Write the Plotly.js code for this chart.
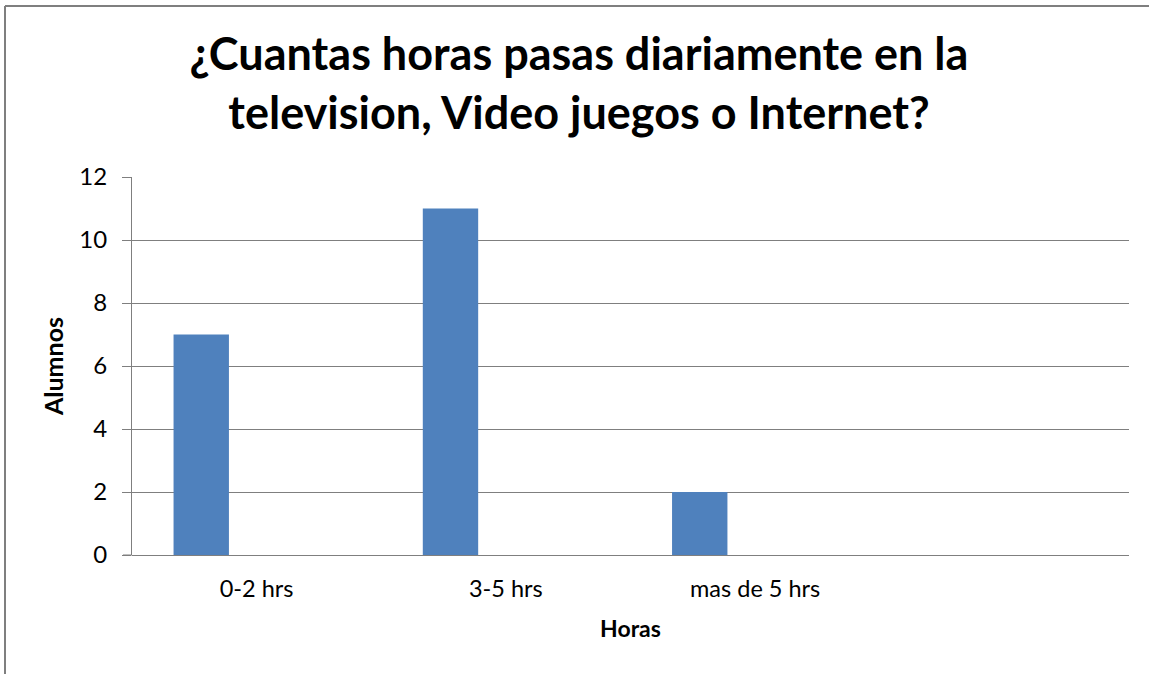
<!DOCTYPE html>
<html>
<head>
<meta charset="utf-8">
<script src="https://cdn.plot.ly/plotly-3.0.1.min.js"></script>
<style>html,body{margin:0;padding:0;background:#fff}#chart{width:1149px;height:674px}</style>
</head>
<body>
<div id="chart"></div>
<script>
const categories = ['0-2 hrs', '3-5 hrs', 'mas de 5 hrs', ' '];
const alumnos = [7, 11, 2, null];
const yTicks = [0, 2, 4, 6, 8, 10, 12];
const chartTitle = '¿Cuantas horas pasas diariamente en la<br>television, Video juegos o Internet?';
const xTitle = 'Horas';
const yTitle = 'Alumnos';

const W = 1149, H = 674;
const L = 132, R = 20, T = 177, B = 119;
const pw = W - L - R, ph = H - T - B;
const px = v => (v - L) / pw;
const py = v => (H - B - v) / ph;

const grey = '#7f7f7f';
const font = 'Lato, "Open Sans", sans-serif';

const trace = {
  type: 'bar',
  x: categories,
  y: alumnos,
  width: 0.2222,
  offset: -0.3333,
  marker: {color: '#4F81BD', line: {width: 0}},
  hoverinfo: 'x+y'
};

const layout = {
  width: W, height: H,
  margin: {l: L, r: R, t: T, b: B, pad: 0},
  paper_bgcolor: '#fff', plot_bgcolor: '#fff',
  showlegend: false,
  font: {family: font, color: '#000'},
  title: {
    text: chartTitle,
    font: {family: font, size: 45, color: '#000', weight: 'bold'},
    x: 579 / W, xanchor: 'center', xref: 'container',
    y: 1 - 70 / H, yanchor: 'top', yref: 'container'
  },
  xaxis: {
    type: 'category',
    range: [-0.5, 3.5],
    showgrid: false,
    showline: false,
    zeroline: false,
    ticks: '',
    tickfont: {family: font, size: 23.5, color: '#000'},
    ticklabelstandoff: 17,
    title: {text: xTitle, font: {family: font, size: 23, color: '#000', weight: 'bold'}, standoff: 20},
    fixedrange: true
  },
  yaxis: {
    range: [0, 12],
    tickvals: yTicks,
    ticktext: yTicks.map(String),
    showgrid: true, gridcolor: grey, gridwidth: 1,
    showline: true, linecolor: grey, linewidth: 1,
    zeroline: true, zerolinecolor: grey, zerolinewidth: 1,
    ticks: 'outside', ticklen: 9, tickcolor: grey, tickwidth: 1,
    tickfont: {family: font, size: 24, color: '#000'},
    ticklabelstandoff: 10,
    title: {text: yTitle, font: {family: font, size: 25, color: '#000', weight: 'bold'}, standoff: 8},
    fixedrange: true
  },
  shapes: [
    {type: 'line', xref: 'paper', yref: 'paper', x0: px(123), x1: px(132), y0: 0, y1: 0, line: {color: grey, width: 1}},
    {type: 'line', xref: 'paper', yref: 'paper', x0: px(5), x1: px(W), y0: py(6), y1: py(6), line: {color: grey, width: 2}},
    {type: 'line', xref: 'paper', yref: 'paper', x0: px(5), x1: px(5), y0: py(6), y1: py(H), line: {color: grey, width: 2}}
  ]
};

Plotly.newPlot('chart', [trace], layout, {displayModeBar: false, staticPlot: true});
</script>
</body>
</html>
